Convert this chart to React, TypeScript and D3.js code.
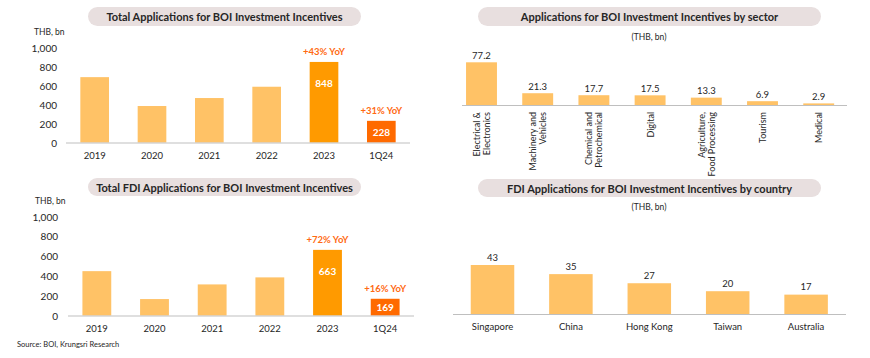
import React from "react";
import * as d3 from "d3";

const years = ["2019", "2020", "2021", "2022", "2023", "1Q24"];
const totalApps = [688, 384, 468, 587, 848, 228];
const totalYoY = ["", "", "", "", "+43% YoY", "+31% YoY"];
const fdiApps = [448, 166, 314, 385, 663, 169];
const fdiYoY = ["", "", "", "", "+72% YoY", "+16% YoY"];
const yTicks = [0, 200, 400, 600, 800, 1000];

const sectors = [
  ["Electrical &", "Electronics"],
  ["Machinery and", "Vehicles"],
  ["Chemical and", "Petrochemical"],
  ["Digital"],
  ["Agriculture,", "Food Processing"],
  ["Tourism"],
  ["Medical"],
];
const sectorValues = [77.2, 21.3, 17.7, 17.5, 13.3, 6.9, 2.9];

const countries = ["Singapore", "China", "Hong Kong", "Taiwan", "Australia"];
const countryValues = [43, 35, 27, 20, 17];

const FONT = "Lato, 'Open Sans', sans-serif";
const LIGHT = "#FFC266";
const MID = "#FF9A00";
const DARK = "#FF6A00";
const ACCENT = "#FF6A13";
const TEXT = "#262626";
const AXIS = "#BFBFBF";
const PILL = "#E8DFDF";

const fmt = d3.format(",");

function Pill({ x0, x1, y0, y1, text }: any) {
  return (
    <g>
      <rect x={x0} y={y0} width={x1 - x0} height={y1 - y0} rx={(y1 - y0) / 2} fill={PILL} />
      <text x={(x0 + x1) / 2} y={(y0 + y1) / 2} textAnchor="middle" dominantBaseline="central"
        fontWeight="bold" fontSize={11} fill={TEXT}>{text}</text>
    </g>
  );
}

function YearPanel({ values, yoy, xr, y0, y1000, tickX, unitY, axisX, pill }: any) {
  const x = d3.scaleBand().domain(years).range(xr).paddingInner(0.5).paddingOuter(0.25);
  const y = d3.scaleLinear().domain([0, 1000]).range([y0, y1000]);
  const bw = x.bandwidth();
  return (
    <g>
      <Pill {...pill} />
      <text x={tickX - 23} y={unitY} dominantBaseline="central" fontSize={8.5} fill={TEXT}>THB, bn</text>
      {yTicks.map((t) => (
        <text key={t} x={tickX} y={y(t)} textAnchor="end" dominantBaseline="central" fontSize={10} fill={TEXT}>{fmt(t)}</text>
      ))}
      {values.map((v: number, i: number) => {
        const cx = (x(years[i]) as number) + bw / 2;
        const top = y(v);
        const color = i === 4 ? MID : i === 5 ? DARK : LIGHT;
        const inner = i >= 4;
        const labelY = Math.min(top + 21, (top + y0) / 2);
        return (
          <g key={i}>
            <rect x={x(years[i])} y={top} width={bw} height={y0 - top} fill={color} />
            {inner && (
              <text x={cx} y={labelY} textAnchor="middle" dominantBaseline="central" fontSize={10} fontWeight="bold" fill="#fff">{v}</text>
            )}
            {yoy[i] && (
              <text x={cx} y={top - 10} textAnchor="middle" dominantBaseline="central" fontSize={9.5} fontWeight="bold" fill={ACCENT}>{yoy[i]}</text>
            )}
            <text x={cx} y={y0 + 12.5} textAnchor="middle" dominantBaseline="central" fontSize={9.5} fill={TEXT}>{years[i]}</text>
          </g>
        );
      })}
      <line x1={axisX[0]} x2={axisX[1]} y1={y0 + 0.5} y2={y0 + 0.5} stroke={AXIS} strokeWidth={1} />
    </g>
  );
}

function SectorPanel() {
  const names = sectors.map((s) => s.join(" "));
  const x = d3.scaleBand().domain(names).range([453.4, 846.8]).paddingInner(0.45).paddingOuter(0.225);
  const y = d3.scaleLinear().domain([0, 77.2]).range([105, 62.3]);
  const bw = x.bandwidth();
  return (
    <g>
      <Pill x0={478} x1={821} y0={7} y1={26} text="Applications for BOI Investment Incentives by sector" />
      <text x={649} y={37} textAnchor="middle" dominantBaseline="central" fontSize={8.5} fill={TEXT}>(THB, bn)</text>
      {sectorValues.map((v, i) => {
        const cx = (x(names[i]) as number) + bw / 2;
        const top = y(v);
        const lines = sectors[i];
        return (
          <g key={i}>
            <rect x={x(names[i])} y={top} width={bw} height={105 - top} fill={LIGHT} />
            <text x={cx} y={top - 7} textAnchor="middle" dominantBaseline="central" fontSize={9.5} fill={TEXT}>{v.toFixed(1)}</text>
            {lines.map((l, j) => (
              <text key={j} transform={`translate(${cx + (j - (lines.length - 1) / 2) * 10},112) rotate(-90)`}
                textAnchor="end" dominantBaseline="central" fontSize={9} fill={TEXT}>{l}</text>
            ))}
          </g>
        );
      })}
      <line x1={462} x2={847} y1={105.5} y2={105.5} stroke={AXIS} strokeWidth={1} />
    </g>
  );
}

function CountryPanel() {
  const x = d3.scaleBand().domain(countries).range([453.3, 845.3]).paddingInner(0.445).paddingOuter(0.2225);
  const y = d3.scaleLinear().domain([0, 43]).range([314, 265]);
  const bw = x.bandwidth();
  return (
    <g>
      <Pill x0={478} x1={821} y0={179} y1={197} text="FDI Applications for BOI Investment Incentives by country" />
      <text x={649} y={207} textAnchor="middle" dominantBaseline="central" fontSize={8.5} fill={TEXT}>(THB, bn)</text>
      {countryValues.map((v, i) => {
        const cx = (x(countries[i]) as number) + bw / 2;
        const top = y(v);
        return (
          <g key={i}>
            <rect x={x(countries[i])} y={top} width={bw} height={314 - top} fill={LIGHT} />
            <text x={cx} y={top - 8} textAnchor="middle" dominantBaseline="central" fontSize={9.5} fill={TEXT}>{v}</text>
            <text x={cx} y={326} textAnchor="middle" dominantBaseline="central" fontSize={9.5} fill={TEXT}>{countries[i]}</text>
          </g>
        );
      })}
      <line x1={453} x2={846} y1={314.5} y2={314.5} stroke={AXIS} strokeWidth={1} />
    </g>
  );
}

export default function App() {
  return (
    <svg width={870} height={358} style={{ position: "absolute", left: 0, top: 0, background: "#fff" }} fontFamily={FONT}>
      <YearPanel values={totalApps} yoy={totalYoY} xr={[66, 410]} y0={142.5} y1000={47.5} tickX={57} unitY={32}
        axisX={[66, 410]} pill={{ x0: 88, x1: 361, y0: 7, y1: 26, text: "Total Applications for BOI Investment Incentives" }} />
      <YearPanel values={fdiApps} yoy={fdiYoY} xr={[68, 414]} y0={315.5} y1000={216.5} tickX={58} unitY={201}
        axisX={[68, 414]} pill={{ x0: 88, x1: 361, y0: 178, y1: 196, text: "Total FDI Applications for BOI Investment Incentives" }} />
      <SectorPanel />
      <CountryPanel />
      <text x={17} y={344} dominantBaseline="central" fontSize={7.5} fill={TEXT}>Source: BOI, Krungsri Research</text>
    </svg>
  );
}
